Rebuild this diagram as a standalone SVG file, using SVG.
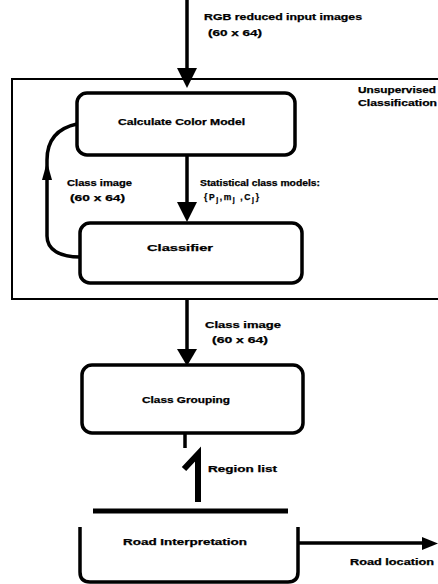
<svg xmlns="http://www.w3.org/2000/svg" width="438" height="584" viewBox="0 0 438 584">
<style>
  .box { fill: none; stroke: #000; stroke-width: 3.5; }
  .line { fill: none; stroke: #000; stroke-width: 3.5; }
  .t { font-family: "Liberation Sans", Arial, sans-serif; font-weight: bold; font-size: 8.5px; fill: #000; stroke: #000; stroke-width: 0.25; }
  .head { fill: #000; }
</style>
<rect width="438" height="584" fill="#fff"/>
<g id="outer-frame">
  <path d="M 440 79 L 12 79 L 12 299 L 440 299" fill="none" stroke="#000" stroke-width="2"/>
  <text class="t" x="358" y="93" textLength="78" lengthAdjust="spacingAndGlyphs">Unsupervised</text>
  <text class="t" x="358" y="106" textLength="79" lengthAdjust="spacingAndGlyphs">Classification</text>
</g>
<g id="connectors">
  <line class="line" x1="187" y1="0" x2="187" y2="70"/>
  <polygon class="head" points="177,68 197,68 187,88"/>
  <line class="line" x1="187" y1="155" x2="187" y2="205"/>
  <polygon class="head" points="177,202 197,202 187,222"/>
  <path class="line" d="M 77 124 C 58 128 47 140 47 160 L 47 236 C 47 250 60 257 80 257"/>
  <polygon class="head" points="42,180 52,180 47,162"/>
  <line class="line" x1="187" y1="299" x2="187" y2="352"/>
  <polygon class="head" points="177,349 197,349 187,366"/>
  <line class="line" x1="185" y1="433" x2="185" y2="448"/>
  <path d="M 184 469 L 198 454 L 198 502" fill="none" stroke="#000" stroke-width="6"/>
  <line x1="93" y1="511" x2="288" y2="511" stroke="#000" stroke-width="5"/>
  <line class="line" x1="298" y1="543" x2="424" y2="543"/>
  <polygon class="head" points="422,537 422,550 438,543.5"/>
  <text class="t" x="204" y="20" textLength="158" lengthAdjust="spacingAndGlyphs">RGB reduced input images</text>
  <text class="t" x="208" y="36" textLength="54" lengthAdjust="spacingAndGlyphs">(60 x 64)</text>
  <text class="t" x="67" y="186" textLength="65" lengthAdjust="spacingAndGlyphs">Class image</text>
  <text class="t" x="70" y="201" textLength="55" lengthAdjust="spacingAndGlyphs">(60 x 64)</text>
  <text class="t" x="200" y="186" textLength="120" lengthAdjust="spacingAndGlyphs">Statistical class models:</text>
  <text class="t" x="204" y="200" font-size="10" letter-spacing="1.6">{P<tspan dy="2" font-size="7">j</tspan><tspan dy="-2">,m</tspan><tspan dy="2" font-size="7">j</tspan><tspan dy="-2"> ,C</tspan><tspan dy="2" font-size="7">j</tspan><tspan dy="-2">}</tspan></text>
  <text class="t" x="205" y="328" textLength="76" lengthAdjust="spacingAndGlyphs">Class image</text>
  <text class="t" x="212" y="343" textLength="56" lengthAdjust="spacingAndGlyphs">(60 x 64)</text>
  <text class="t" x="208" y="472" textLength="69" lengthAdjust="spacingAndGlyphs">Region list</text>
  <text class="t" x="350" y="565" textLength="84" lengthAdjust="spacingAndGlyphs">Road location</text>
</g>
<g id="calculate-color-model">
  <rect class="box" x="77" y="93" width="218" height="62" rx="10"/>
  <text class="t" x="118" y="125" textLength="127" lengthAdjust="spacingAndGlyphs">Calculate Color Model</text>
</g>
<g id="classifier">
  <rect class="box" x="80" y="223" width="222" height="60" rx="10"/>
  <text class="t" x="147" y="251" textLength="66" lengthAdjust="spacingAndGlyphs">Classifier</text>
</g>
<g id="class-grouping">
  <rect class="box" x="82" y="365" width="221" height="68" rx="10"/>
  <text class="t" x="142" y="403" textLength="88" lengthAdjust="spacingAndGlyphs">Class Grouping</text>
</g>
<g id="road-interpretation">
  <path class="box" d="M 80 527 L 80 572 Q 80 582 90 582 L 288 582 Q 298 582 298 572 L 298 527"/>
  <text class="t" x="123" y="545" textLength="124" lengthAdjust="spacingAndGlyphs">Road Interpretation</text>
</g>
</svg>
